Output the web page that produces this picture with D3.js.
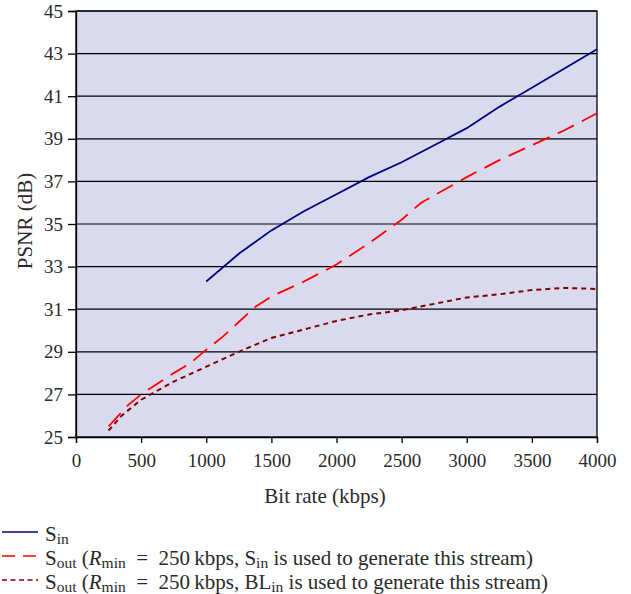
<!DOCTYPE html>
<html><head><meta charset="utf-8">
<script src="https://cdn.jsdelivr.net/npm/d3@7"></script>
</head><body style="margin:0">
<svg id="c" width="631" height="594"></svg>
<script>
const xTicks = [0,500,1000,1500,2000,2500,3000,3500,4000];
const yTicks = [25,27,29,31,33,35,37,39,41,43,45];
const sIn = [[1000,32.3],[1250,33.6],[1500,34.7],[1750,35.6],[2000,36.4],[2250,37.2],[2500,37.9],[2750,38.7],[3000,39.5],[3250,40.5],[3500,41.4],[3750,42.3],[4000,43.2]];
const sOutSin = [[250,25.5],[400,26.5],[500,27.0],[625,27.5],[750,28.0],[875,28.45],[1000,29.1],[1125,29.7],[1250,30.4],[1375,31.1],[1500,31.6],[1750,32.3],[2000,33.1],[2250,34.1],[2500,35.2],[2650,36.0],[3000,37.2],[3250,38.0],[3500,38.7],[3750,39.4],[4000,40.2]];
const sOutBL = [[250,25.3],[350,26.0],[500,26.75],[750,27.6],[1000,28.3],[1250,29.0],[1500,29.65],[1750,30.05],[2000,30.45],[2250,30.75],[2500,30.95],[2750,31.25],[3000,31.55],[3250,31.7],[3500,31.9],[3750,32.0],[4000,31.95]];

const svg = d3.select("#c").style("display","block");
const font = "'Liberation Serif'";
const ink = "#2a2a2a";
const L=76, R=597, T=11, B=437;
const x = d3.scaleLinear().domain([0,4000]).range([L,R]);
const y = d3.scaleLinear().domain([25,45]).range([B,T]);

svg.append("rect").attr("x",L).attr("y",T).attr("width",R-L).attr("height",B-T).attr("fill","#dadaee");
svg.append("g").selectAll("line").data(yTicks.slice(1)).join("line")
  .attr("x1",L).attr("x2",R).attr("y1",d=>y(d)).attr("y2",d=>y(d))
  .attr("stroke","#000").attr("stroke-width",1.2);
svg.append("rect").attr("x",L).attr("y",T).attr("width",R-L).attr("height",B-T).attr("fill","none").attr("stroke","#000").attr("stroke-width",1.3);

const gx = svg.append("g").attr("transform",`translate(0,${B})`)
  .call(d3.axisBottom(x).tickValues(xTicks).tickSize(6).tickPadding(11).tickFormat(d3.format("d")));
const gy = svg.append("g").attr("transform",`translate(${L},0)`)
  .call(d3.axisLeft(y).tickValues(yTicks).tickSize(8).tickPadding(5).tickFormat(d3.format("d")));
[gx,gy].forEach(g=>{
  g.attr("font-family",null).attr("font-size",null);
  g.select(".domain").attr("stroke","#000").attr("stroke-width",1.3);
  g.selectAll(".tick line").attr("stroke","#000").attr("stroke-width",1.3);
  g.selectAll("text").style("font-family",font).attr("font-size",19).attr("fill",ink);
});

svg.append("text").attr("x",325).attr("y",503).attr("text-anchor","middle")
  .style("font-family",font).attr("font-size",21).attr("fill",ink).text("Bit rate (kbps)");
svg.append("text").attr("transform","translate(32,221) rotate(-90)").attr("text-anchor","middle")
  .style("font-family",font).attr("font-size",21).attr("fill",ink).text("PSNR (dB)");

const line = d3.line().x(d=>x(d[0])).y(d=>y(d[1]));
svg.append("path").datum(sIn).attr("d",line).attr("fill","none").attr("stroke","#000080").attr("stroke-width",1.8);
svg.append("path").datum(sOutSin).attr("d",line).attr("fill","none").attr("stroke","#ff0000").attr("stroke-width",1.8).attr("stroke-dasharray","18,9");
svg.append("path").datum(sOutBL).attr("d",line).attr("fill","none").attr("stroke","#800000").attr("stroke-width",2).attr("stroke-dasharray","5,4");

// legend
const leg = [
  {c:"#000080",dash:null,parts:[["S",""],["in","sub"]]},
  {c:"#ff0000",dash:"13,8",parts:[["S",""],["out","sub"],[" (",""],["R","it"],["min","sub"],["\u2002=\u2002250\u2009kbps, S",""],["in","sub"],[" is used to generate this stream)",""]]},
  {c:"#800000",dash:"5,3.5",parts:[["S",""],["out","sub"],[" (",""],["R","it"],["min","sub"],["\u2002=\u2002250\u2009kbps, BL",""],["in","sub"],[" is used to generate this stream)",""]]}
];
const ly = [532,556,580];
leg.forEach((e,i)=>{
  svg.append("line").attr("x1",2).attr("x2",38).attr("y1",ly[i]).attr("y2",ly[i])
    .attr("stroke",e.c).attr("stroke-width",1.6).attr("stroke-dasharray",e.dash);
  const t = svg.append("text").attr("x",45).attr("y",ly[i]+9).style("font-family",font).attr("font-size",21).attr("fill",ink);
  let prevSub=false;
  e.parts.forEach(p=>{
    const ts = t.append("tspan").text(p[0]);
    if(p[1]==="sub"){ ts.attr("font-size",15.5).attr("dy",prevSub?0:3); prevSub=true; }
    else { ts.attr("dy",prevSub?-3:0); prevSub=false; if(p[1]==="it") ts.attr("font-style","italic"); }
  });
});
</script>
</body></html>
